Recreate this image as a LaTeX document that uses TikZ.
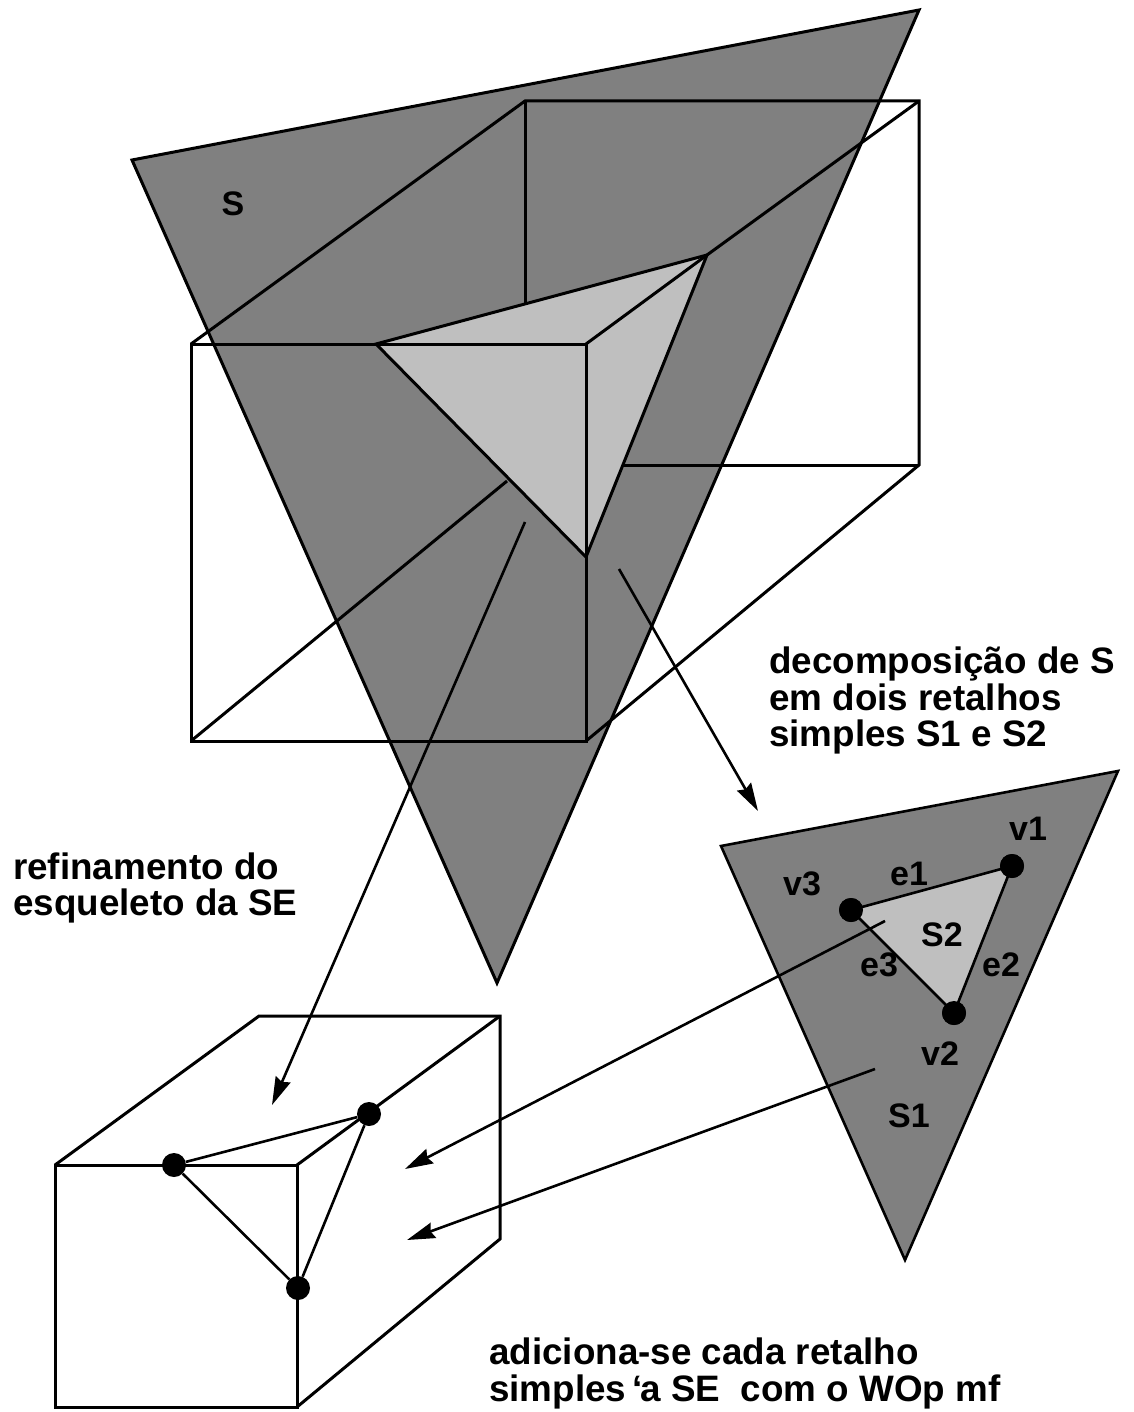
\documentclass[tikz,border=0pt]{standalone}
\usepackage{fontspec}
\setmainfont{Liberation Sans}[BoldFont={Liberation Sans Bold}]
\usetikzlibrary{arrows.meta}
\definecolor{darkS}{gray}{0.5}
\definecolor{lightS}{gray}{0.75}
\tikzset{
  edge/.style={draw=black,line width=3pt,line join=miter},
  thinedge/.style={draw=black,line width=2.6pt},
  arrowline/.style={draw=black,line width=2.6pt,-{Stealth[length=28pt,width=16pt,inset=3pt]}},
  vertexdot/.style={circle,fill=black,inner sep=0pt,minimum size=24pt},
  lab/.style={inner sep=0pt,anchor=base,font=\fontsize{34}{37}\selectfont\bfseries},
  captext/.style={inner sep=0pt,anchor=base west,font=\fontsize{36.8}{37}\selectfont\bfseries,align=left},
}
\begin{document}
\begin{tikzpicture}[x=1pt,y=-1pt]
\useasboundingbox (0,0) rectangle (1133,1412);
% large surface
\coordinate (sa) at (132,160); \coordinate (sb) at (919,10); \coordinate (sc) at (497,983);
\coordinate (ta) at (376,344); \coordinate (tb) at (707,255); \coordinate (tc) at (586,557);
\coordinate (ftl) at (191,344); \coordinate (ftr) at (586,344); \coordinate (fbr) at (586,741); \coordinate (fbl) at (191,741);
\coordinate (btl) at (525,101); \coordinate (btr) at (919,101); \coordinate (bbr) at (919,465);
\coordinate (bhid) at (525,305); \coordinate (bmid) at (622,465); \coordinate (hid) at (507,481);
\path[edge,fill=darkS] (sa) -- (sb) -- (sc) -- cycle;
\path[edge,fill=lightS] (ta) -- (tb) -- (tc) -- cycle;
\draw[edge] (fbl) -- (ftl) -- (ftr) -- (fbr) -- cycle;
\draw[edge] (ftl) -- (btl) -- (btr) -- (bbr) -- (fbr);
\draw[edge] (ftr) -- (tb) -- (btr);
\draw[edge] (btl) -- (bhid);
\draw[edge] (bmid) -- (bbr);
\draw[edge] (fbl) -- (hid);
% small surface
\coordinate (pa) at (721,846); \coordinate (pb) at (1118,771); \coordinate (pc) at (905,1260);
\path[thinedge,fill=darkS] (pa) -- (pb) -- (pc) -- cycle;
\node[vertexdot] (v3) at (851,910) {};
\node[vertexdot] (v1) at (1012,866) {};
\node[vertexdot] (v2) at (954,1013) {};
\path[thinedge,fill=lightS] (v3.center) -- (v1.center) -- (v2.center) -- cycle;
\node[vertexdot] at (v3) {};
\node[vertexdot] at (v1) {};
\node[vertexdot] at (v2) {};
% lower cube
\coordinate (cftl) at (55,1165); \coordinate (cftr) at (297,1165); \coordinate (cfbr) at (297,1407); \coordinate (cfbl) at (55,1407);
\coordinate (cbtl) at (259,1016); \coordinate (cbtr) at (500,1016); \coordinate (cbbr) at (500,1239);
\draw[edge] (cfbl) -- (cftl) -- (cftr) -- (cfbr) -- cycle;
\draw[edge] (cftl) -- (cbtl) -- (cbtr) -- (cbbr) -- (cfbr);
\draw[edge] (cftr) -- (cbtr);
\node[vertexdot] (d1) at (174,1165) {};
\node[vertexdot] (d2) at (369,1114) {};
\node[vertexdot] (d3) at (298,1288) {};
\draw[thinedge] (d1) -- (d2) -- (d3) -- (d1);
% arrows
\coordinate (a1s) at (525,522); \coordinate (a1e) at (272,1105);
\coordinate (a2s) at (619,569); \coordinate (a2e) at (758,811);
\coordinate (a3s) at (885,921); \coordinate (a3e) at (405,1169);
\coordinate (a4s) at (875,1069); \coordinate (a4e) at (407,1240);
\draw[arrowline] (a1s) -- (a1e);
\draw[arrowline] (a2s) -- (a2e);
\draw[arrowline] (a3s) -- (a3e);
\draw[arrowline] (a4s) -- (a4e);
% labels
\node[lab] (ls) at (233,216) {S};
\node[lab] (lv1) at (1028,840) {v1};
\node[lab] (lv3) at (802,895) {v3};
\node[lab] (le1) at (909,885) {e1};
\node[lab] (le2) at (1001,976) {e2};
\node[lab] (le3) at (879,976) {e3};
\node[lab] (ls2) at (942,946) {S2};
\node[lab] (lv2) at (940,1065) {v2};
\node[lab] (ls1) at (909,1127) {S1};
\node[captext] (c1) at (769,673) {decomposição de S};
\node[captext] (c2) at (769,710) {em dois retalhos};
\node[captext] (c3) at (769,746) {simples S1 e S2};
\node[captext] (c4) at (13,879) {refinamento do};
\node[captext] (c5) at (13,915) {esqueleto da SE};
\node[captext] (c6) at (489,1364) {adiciona-se cada retalho};
\node[captext] (c7) at (489,1401) {simples\kern6pt‘\kern-2pt a SE\ \ com o WOp mf};
\end{tikzpicture}
\end{document}
